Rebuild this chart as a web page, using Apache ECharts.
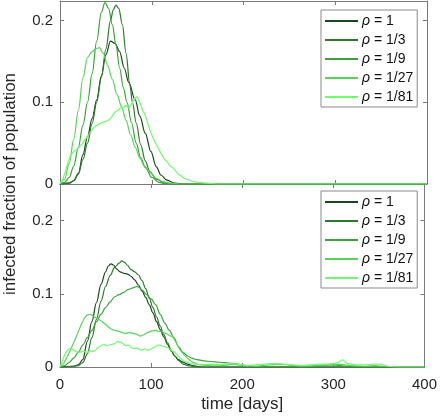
<!DOCTYPE html>
<html><head><meta charset="utf-8">
<script src="https://cdn.jsdelivr.net/npm/echarts@6/dist/echarts.min.js"></script>
<style>html,body{margin:0;padding:0;background:#fff}#c{width:440px;height:417px}</style>
</head><body><div id="c"></div>
<script>
// ---- data: [time (days), infected fraction] ----
const names = ['ρ = 1', 'ρ = 1/3', 'ρ = 1/9', 'ρ = 1/27', 'ρ = 1/81'];
const colors = ['#1a481a', '#2b7a2b', '#37a437', '#56d456', '#70fa70'];
const xTicks = [0, 100, 200, 300, 400];
const yTicks = [0, 0.1, 0.2];

// top panel
const top_rho1 = [[0,0],[10,0.001],[15,0.004],[20,0.013],[25,0.036],[30,0.058],[35,0.08],[40,0.103],[45,0.132],[50,0.158],[55,0.175],[60,0.172],[65,0.162],[70,0.142],[75,0.124],[82,0.103],[87,0.083],[93,0.062],[99,0.04],[105,0.021],[110,0.011],[116,0.005],[125,0.001],[135,0],[400,0]];
const top_rho3 = [[0,0],[10,0.001],[15,0.004],[20,0.012],[25,0.03],[30,0.05],[35,0.074],[40,0.1],[45,0.13],[50,0.165],[55,0.2],[58,0.213],[61,0.219],[64,0.215],[68,0.195],[72,0.16],[76,0.122],[79,0.1],[83,0.075],[88,0.048],[93,0.028],[98,0.015],[105,0.006],[115,0.001],[125,0],[400,0]];
const top_rho9 = [[0,0],[5,0.002],[10,0.008],[15,0.022],[20,0.045],[25,0.072],[30,0.1],[35,0.135],[40,0.175],[45,0.21],[49,0.222],[53,0.215],[57,0.195],[61,0.17],[65,0.142],[69,0.118],[73,0.1],[78,0.075],[83,0.05],[88,0.032],[93,0.02],[100,0.008],[108,0.002],[115,0],[400,0]];
const top_rho27 = [[0,0],[5,0.006],[10,0.025],[15,0.055],[20,0.09],[25,0.13],[30,0.155],[35,0.162],[40,0.166],[43,0.167],[47,0.16],[52,0.145],[57,0.128],[62,0.11],[67,0.095],[72,0.078],[77,0.06],[82,0.045],[87,0.032],[92,0.022],[98,0.014],[105,0.007],[112,0.003],[120,0.001],[130,0],[400,0]];
const top_rho81 = [[0,0],[3,0.006],[6,0.016],[9,0.028],[12,0.036],[15,0.04],[18,0.042],[21,0.045],[24,0.049],[27,0.054],[30,0.058],[33,0.063],[36,0.068],[39,0.071],[42,0.073],[45,0.075],[48,0.076],[51,0.077],[54,0.079],[57,0.083],[60,0.088],[63,0.09],[66,0.093],[69,0.094],[72,0.096],[75,0.093],[78,0.098],[81,0.104],[84,0.107],[87,0.1],[90,0.09],[93,0.084],[96,0.073],[99,0.063],[102,0.055],[105,0.048],[108,0.042],[111,0.036],[114,0.03],[117,0.027],[120,0.022],[123,0.02],[126,0.016],[129,0.012],[132,0.01],[135,0.007],[140,0.005],[145,0.003],[150,0.002],[160,0.001],[170,0],[400,0]];

// bottom panel
const bot_rho1 = [[0,0],[15,0.001],[20,0.003],[25,0.01],[30,0.035],[35,0.062],[40,0.088],[45,0.113],[50,0.13],[53,0.138],[56,0.141],[59,0.139],[62,0.134],[66,0.13],[70,0.128],[74,0.127],[78,0.124],[82,0.119],[86,0.112],[90,0.104],[94,0.095],[98,0.085],[102,0.074],[106,0.062],[110,0.051],[114,0.041],[118,0.031],[122,0.022],[126,0.015],[130,0.01],[134,0.007],[140,0.004],[145,0.002],[155,0],[400,0]];
const bot_rho3 = [[0,0],[15,0.001],[20,0.002],[25,0.006],[30,0.018],[35,0.04],[40,0.065],[45,0.09],[50,0.11],[55,0.125],[60,0.136],[65,0.142],[68,0.145],[71,0.143],[74,0.139],[78,0.133],[82,0.13],[86,0.126],[90,0.118],[94,0.107],[98,0.094],[102,0.081],[106,0.068],[110,0.056],[114,0.044],[118,0.033],[122,0.023],[126,0.015],[130,0.009],[135,0.004],[140,0.002],[150,0],[400,0]];
const bot_rho9 = [[0,0],[5,0.002],[10,0.006],[15,0.012],[20,0.02],[25,0.03],[30,0.04],[35,0.05],[40,0.062],[45,0.072],[50,0.081],[55,0.089],[60,0.096],[65,0.099],[70,0.102],[75,0.106],[80,0.108],[84,0.11],[87,0.109],[90,0.105],[95,0.099],[100,0.093],[105,0.085],[110,0.072],[115,0.06],[120,0.05],[125,0.04],[130,0.028],[135,0.02],[140,0.015],[145,0.012],[150,0.01],[160,0.008],[170,0.007],[180,0.006],[190,0.005],[200,0.003],[210,0.001],[220,0],[270,0],[285,0.002],[300,0.003],[315,0.001],[330,0],[400,0]];
const bot_rho27 = [[0,0],[4,0.005],[8,0.014],[12,0.025],[16,0.036],[20,0.048],[24,0.06],[27,0.067],[30,0.071],[33,0.072],[36,0.07],[40,0.067],[44,0.064],[48,0.06],[52,0.056],[56,0.052],[60,0.05],[64,0.049],[68,0.047],[72,0.046],[76,0.047],[80,0.046],[84,0.045],[88,0.042],[92,0.044],[96,0.047],[100,0.049],[104,0.05],[108,0.049],[112,0.048],[116,0.046],[120,0.043],[124,0.041],[128,0.032],[132,0.023],[136,0.017],[140,0.012],[145,0.007],[150,0.004],[160,0.002],[170,0.003],[180,0.002],[190,0.004],[200,0.002],[215,0.001],[230,0.003],[240,0.004],[250,0.003],[265,0.001],[280,0.002],[295,0.003],[305,0.004],[320,0.002],[335,0.001],[345,0.002],[355,0.001],[365,0],[400,0]];
const bot_rho81 = [[0,0],[3,0.01],[6,0.019],[9,0.024],[12,0.026],[15,0.023],[18,0.021],[21,0.02],[24,0.021],[27,0.021],[30,0.02],[33,0.022],[36,0.021],[39,0.023],[42,0.027],[45,0.029],[48,0.031],[51,0.029],[54,0.03],[57,0.031],[60,0.032],[63,0.035],[66,0.034],[69,0.032],[72,0.029],[75,0.03],[78,0.027],[81,0.025],[84,0.026],[87,0.024],[90,0.023],[93,0.025],[96,0.023],[99,0.024],[102,0.026],[105,0.028],[108,0.03],[111,0.029],[114,0.028],[117,0.027],[120,0.025],[123,0.022],[126,0.02],[129,0.016],[132,0.012],[135,0.009],[138,0.007],[142,0.005],[148,0.004],[155,0.003],[165,0.004],[175,0.003],[185,0.005],[195,0.004],[205,0.002],[215,0.003],[225,0.004],[235,0.005],[245,0.004],[255,0.003],[265,0.002],[275,0.003],[285,0.004],[295,0.004],[305,0.006],[310,0.01],[315,0.005],[325,0.003],[335,0.003],[345,0.004],[352,0.004],[360,0.001],[370,0],[400,0]];

const topData = [top_rho1, top_rho3, top_rho9, top_rho27, top_rho81];
const botData = [bot_rho1, bot_rho3, bot_rho9, bot_rho27, bot_rho81];

const FONT = 'Liberation Sans, Arial, Helvetica, sans-serif';
const TXT = '#262626';
const LINE = '#7a7a7a';

const chart = echarts.init(document.getElementById('c'), null, {renderer: 'canvas'});

function xAx(grid, pos, labels, name) {
  return {
    type: 'value', gridIndex: grid, position: pos, min: 0, max: 400, interval: 100,
    axisLine: {show: true, onZero: false, lineStyle: {color: LINE, width: 1}},
    axisTick: {show: true, inside: true, length: 4, lineStyle: {color: LINE}},
    axisLabel: {show: labels, color: TXT, fontSize: 15, fontFamily: FONT, margin: 10},
    splitLine: {show: false},
    name: name || '', nameLocation: 'middle', nameGap: 29,
    nameTextStyle: {color: TXT, fontSize: 17, fontFamily: FONT}
  };
}
function yAx(grid, pos, max, labels) {
  return {
    type: 'value', gridIndex: grid, position: pos, min: 0, max: max, interval: 0.1,
    axisLine: {show: true, onZero: false, lineStyle: {color: LINE, width: 1}},
    axisTick: {show: true, inside: true, length: 4, lineStyle: {color: LINE}},
    axisLabel: {show: labels, color: TXT, fontSize: 15, fontFamily: FONT, margin: 7, showMaxLabel: false,
      formatter: v => (Math.abs(v - Math.round(v * 10) / 10) < 1e-9 ? String(Math.round(v * 10) / 10) : '')},
    splitLine: {show: false}
  };
}

const series = [];
topData.forEach((d, i) => series.push({
  name: names[i], type: 'line', xAxisIndex: 0, yAxisIndex: 0, data: d,
  showSymbol: false, smooth: i < 4 ? 0.35 : false, smoothMonotone: 'x',
  lineStyle: {color: colors[i], width: 1.2}, itemStyle: {color: colors[i]}, clip: true, z: 2 + i
}));
botData.forEach((d, i) => series.push({
  name: names[i], type: 'line', xAxisIndex: 2, yAxisIndex: 2, data: d,
  showSymbol: false, smooth: i < 3 ? 0.35 : false, smoothMonotone: 'x',
  lineStyle: {color: colors[i], width: 1.2}, itemStyle: {color: colors[i]}, clip: true, z: 2 + i
}));

function legend(top) {
  return {
    data: names, orient: 'vertical', left: 321, top: top,
    padding: [4, 4, 3, 4], itemGap: 5, itemWidth: 33, itemHeight: 2, icon: 'rect',
    backgroundColor: '#fff', borderColor: '#8a8a8a', borderWidth: 1, borderRadius: 0,
    selectedMode: false,
    textStyle: {color: '#111', fontSize: 14, fontFamily: FONT, lineHeight: 14, padding: [0, 0, 0, -1],
      rich: {i: {fontStyle: 'italic', fontSize: 14, fontFamily: FONT, color: '#111'}}},
    formatter: n => '{i|ρ}' + n.slice(1)
  };
}

chart.setOption({
  animation: false,
  backgroundColor: '#fff',
  grid: [
    {left: 60, top: 1, width: 367, height: 183},
    {left: 60, top: 184, width: 367, height: 183}
  ],
  xAxis: [
    xAx(0, 'bottom', false), xAx(0, 'top', false),
    xAx(1, 'bottom', true, 'time [days]'), xAx(1, 'top', false)
  ],
  yAxis: [
    yAx(0, 'left', 0.224, true), yAx(0, 'right', 0.224, false),
    yAx(1, 'left', 0.25, true), yAx(1, 'right', 0.25, false)
  ],
  legend: [legend(10), legend(191)],
  graphic: [{
    type: 'text', x: 10, y: 184, rotation: Math.PI / 2,
    style: {text: 'infected fraction of population', fill: TXT, fontSize: 17, fontFamily: FONT,
      align: 'center', verticalAlign: 'middle'}
  }],
  series: series
});
</script>
</body></html>
